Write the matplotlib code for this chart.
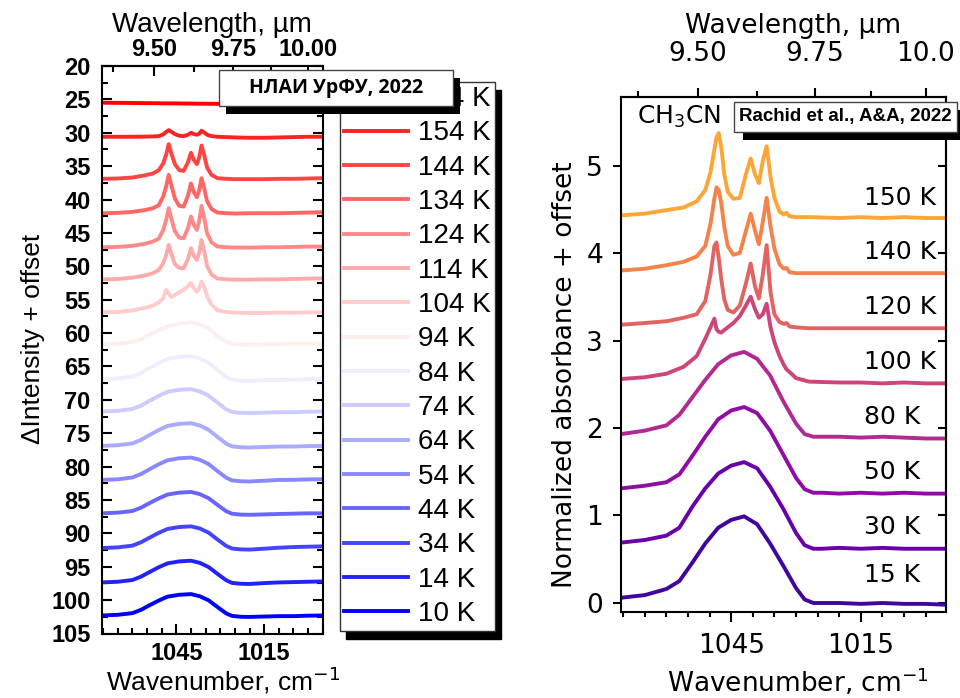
import numpy as np
import matplotlib
matplotlib.use("Agg")
import matplotlib.pyplot as plt
from matplotlib.lines import Line2D
from matplotlib.patches import Rectangle
from matplotlib.ticker import FixedLocator, MultipleLocator

plt.rcParams['font.family'] = ['Liberation Sans', 'DejaVu Sans']

# ---------------- left panel data (НЛАИ УрФУ) ----------------
left_labels = ['164 K', '154 K', '144 K', '134 K', '124 K', '114 K', '104 K', '94 K',
               '84 K', '74 K', '64 K', '54 K', '44 K', '34 K', '14 K', '10 K']

sharp_wn = [1070.5, 1065, 1060, 1056, 1053, 1051, 1049.5, 1048.5, 1047.6, 1046.7, 1045.5,
            1044, 1042.5, 1041, 1040, 1039, 1038, 1037.2, 1036.4, 1035.5, 1034.5, 1033,
            1031, 1028, 1025, 1020, 1015, 1010, 1005, 1000, 995]
l164 = [25.5, 25.52, 25.54, 25.56, 25.57, 25.58, 25.59, 25.59, 25.6, 25.6, 25.6, 25.61, 25.62,
        25.63, 25.63, 25.64, 25.64, 25.65, 25.65, 25.65, 25.66, 25.66, 25.67, 25.68, 25.69,
        25.7, 25.72, 25.74, 25.76, 25.78, 25.8]
l154 = [30.6, 30.6, 30.6, 30.58, 30.55, 30.5, 30.25, 29.9, 29.6, 29.85, 30.2, 30.45, 30.5,
        30.3, 30.0, 30.2, 30.3, 30.15, 29.7, 29.95, 30.3, 30.5, 30.6, 30.65, 30.7, 30.75,
        30.75, 30.7, 30.65, 30.6, 30.6]
l144 = [36.9, 36.85, 36.7, 36.4, 36.1, 35.6, 34.6, 33.3, 31.7, 33.1, 34.7, 35.6, 35.7, 34.4,
        33.0, 34.1, 34.7, 33.7, 31.9, 33.3, 35.2, 36.3, 36.8, 36.9, 36.95, 36.95, 36.95, 36.9,
        36.9, 36.85, 36.8]
l134 = [42.05, 42.0, 41.85, 41.6, 41.3, 40.85, 39.55, 38.08, 36.3, 37.85, 39.85, 40.95, 41.05,
        39.39, 37.6, 38.93, 39.65, 38.62, 36.8, 38.27, 40.26, 41.42, 41.95, 42.05, 42.1, 42.05,
        42.05, 42.05, 42.0, 41.95, 41.9]
l124 = [47.15, 47.1, 46.93, 46.65, 46.3, 45.85, 44.58, 43.11, 41.3, 42.88, 44.75, 45.7, 45.8,
        44.24, 42.55, 43.85, 44.55, 43.25, 40.95, 42.69, 45.05, 46.41, 47.03, 47.15, 47.2, 47.2,
        47.15, 47.15, 47.1, 47.05, 47.05]
l114 = [51.95, 51.9, 51.7, 51.4, 51.05, 50.55, 49.55, 48.35, 46.8, 48.15, 49.65, 50.25, 50.3,
        48.86, 47.3, 48.44, 49.05, 47.97, 46.05, 47.7, 49.95, 51.24, 51.83, 51.95, 52.0, 52.0,
        51.95, 51.95, 51.9, 51.85, 51.8]
l104 = [56.9, 56.85, 56.6, 56.25, 55.9, 55.4, 54.8, 53.5, 54.1, 54.6, 54.3, 53.9, 53.5, 53.0,
        52.5, 53.3, 53.8, 53.3, 52.3, 53.0, 54.5, 55.7, 56.6, 56.85, 56.95, 57.0, 57.0, 56.95,
        56.95, 56.9, 56.9]

broad_wn = [1070.5, 1065, 1060, 1057, 1054, 1051, 1048, 1044, 1040, 1037, 1034, 1031, 1028,
            1026, 1023, 1020, 1015, 1010, 1005, 1000, 995]
l94 = [61.7, 61.6, 61.35, 60.9, 60.2, 59.6, 59.05, 58.6, 58.4, 58.7, 59.3, 60.5, 61.3, 61.6,
       61.75, 61.75, 61.7, 61.65, 61.6, 61.6, 61.55]
l84 = [66.9, 66.8, 66.52, 65.97, 65.21, 64.48, 63.86, 63.55, 63.45, 63.79, 64.45, 65.52, 66.55,
       66.97, 67.11, 67.14, 67.07, 67.0, 67.0, 66.93, 66.9]
l74 = [71.75, 71.65, 71.38, 70.85, 70.11, 69.4, 68.8, 68.5, 68.4, 68.73, 69.37, 70.41, 71.41,
       71.82, 71.95, 71.98, 71.92, 71.85, 71.85, 71.78, 71.75]
l64 = [76.9, 76.8, 76.53, 75.98, 75.23, 74.52, 73.91, 73.6, 73.5, 73.84, 74.49, 75.54, 76.56,
       76.97, 77.1, 77.14, 77.07, 77.0, 77.0, 76.93, 76.9]
l54 = [82.0, 81.9, 81.63, 81.1, 80.36, 79.65, 79.05, 78.75, 78.65, 78.98, 79.62, 80.66, 81.66,
       82.07, 82.2, 82.23, 82.12, 82.0, 81.98, 81.92, 81.9]
l44 = [87.0, 86.9, 86.65, 86.14, 85.43, 84.76, 84.18, 83.9, 83.8, 84.12, 84.73, 85.72, 86.68,
       87.06, 87.19, 87.22, 87.16, 87.1, 87.05, 87.0, 87.0]
l34 = [92.2, 92.1, 91.84, 91.32, 90.61, 89.92, 89.34, 89.05, 88.95, 89.27, 89.89, 90.9, 91.87,
       92.27, 92.4, 92.43, 92.3, 92.15, 92.05, 92.0, 91.95]
l14 = [97.35, 97.25, 96.99, 96.47, 95.76, 95.07, 94.49, 94.2, 94.1, 94.42, 95.04, 96.05, 97.02,
       97.42, 97.55, 97.58, 97.45, 97.35, 97.3, 97.25, 97.2]
l10 = [102.3, 102.2, 101.95, 101.44, 100.73, 100.06, 99.48, 99.2, 99.1, 99.42, 100.03, 101.02,
       101.98, 102.36, 102.49, 102.52, 102.46, 102.4, 102.4, 102.33, 102.3]

left_series = [(sharp_wn, l164), (sharp_wn, l154), (sharp_wn, l144), (sharp_wn, l134),
               (sharp_wn, l124), (sharp_wn, l114), (sharp_wn, l104), (broad_wn, l94),
               (broad_wn, l84), (broad_wn, l74), (broad_wn, l64), (broad_wn, l54),
               (broad_wn, l44), (broad_wn, l34), (broad_wn, l14), (broad_wn, l10)]

left_yticks = list(range(20, 106, 5))
wl_ticks = [9.5, 9.75, 10.0]
wl_minor = [9.375, 9.625, 9.875]

# ---------------- right panel data (Rachid et al.) ----------------
right_labels = ['15 K', '30 K', '50 K', '80 K', '100 K', '120 K', '140 K', '150 K']
right_label_y = [0.32, 0.87, 1.50, 2.13, 2.75, 3.38, 4.01, 4.63]

r_sharp_wn = [1070.5, 1065, 1060, 1056, 1053, 1051, 1049.8, 1048.9, 1048.4, 1047.9, 1047.3,
              1046.6, 1045.8, 1044.5, 1043, 1041.6, 1040.5, 1039.5, 1038.6, 1037.7, 1036.8,
              1035.9, 1035, 1033.8, 1032.8, 1032.2, 1031.5, 1030, 1027, 1020, 1015, 1010,
              1005, 1000, 995.3]
r150 = [4.43, 4.45, 4.49, 4.52, 4.59, 4.72, 4.92, 5.18, 5.32, 5.37, 5.21, 4.90, 4.70, 4.62,
        4.63, 4.90, 5.08, 4.90, 4.80, 5.05, 5.22, 4.87, 4.63, 4.47, 4.44, 4.46, 4.42, 4.41,
        4.41, 4.40, 4.41, 4.40, 4.41, 4.40, 4.40]
r140 = [3.80, 3.82, 3.86, 3.90, 3.96, 4.08, 4.33, 4.62, 4.75, 4.72, 4.57, 4.30, 4.08, 3.98,
        4.00, 4.25, 4.45, 4.26, 4.10, 4.35, 4.63, 4.30, 4.05, 3.87, 3.82, 3.83, 3.78, 3.77,
        3.77, 3.77, 3.77, 3.77, 3.77, 3.77, 3.77]
r120 = [3.18, 3.20, 3.22, 3.26, 3.30, 3.45, 3.75, 4.08, 4.12, 3.95, 3.70, 3.47, 3.35, 3.32,
        3.40, 3.65, 3.88, 3.62, 3.48, 3.75, 4.09, 3.55, 3.30, 3.21, 3.19, 3.20, 3.16, 3.15,
        3.14, 3.14, 3.14, 3.14, 3.14, 3.14, 3.14]
r100 = [2.56, 2.58, 2.62, 2.70, 2.82, 3.02, 3.15, 3.25, 3.13, 3.10, 3.09, 3.12, 3.15, 3.20,
        3.28, 3.40, 3.50, 3.36, 3.26, 3.30, 3.42, 3.15, 2.98, 2.82, 2.72, 2.67, 2.64, 2.57,
        2.53, 2.52, 2.52, 2.51, 2.52, 2.51, 2.51]

r_broad_wn = [1070.5, 1065, 1060, 1057, 1054, 1051, 1048, 1045, 1042, 1039, 1036, 1033, 1030,
              1028, 1026, 1024, 1020, 1015, 1010, 1005, 1000, 995.3]
r80 = [1.93, 1.97, 2.03, 2.15, 2.35, 2.55, 2.73, 2.83, 2.87, 2.79, 2.60, 2.31, 2.05, 1.93,
       1.90, 1.90, 1.90, 1.89, 1.90, 1.89, 1.88, 1.88]
r50 = [1.31, 1.34, 1.38, 1.47, 1.68, 1.90, 2.10, 2.20, 2.24, 2.17, 1.97, 1.70, 1.43, 1.30,
       1.26, 1.26, 1.25, 1.26, 1.25, 1.26, 1.25, 1.25]
r30 = [0.69, 0.72, 0.77, 0.86, 1.10, 1.31, 1.48, 1.57, 1.61, 1.54, 1.33, 1.08, 0.80, 0.66,
       0.62, 0.62, 0.63, 0.62, 0.63, 0.62, 0.62, 0.62]
r15 = [0.06, 0.09, 0.16, 0.25, 0.46, 0.68, 0.86, 0.95, 0.99, 0.90, 0.68, 0.43, 0.17, 0.04,
       0.0, 0.0, 0.0, -0.01, 0.0, -0.01, -0.01, -0.02]

right_series = [(r_broad_wn, r15), (r_broad_wn, r30), (r_broad_wn, r50), (r_broad_wn, r80),
                (r_sharp_wn, r100), (r_sharp_wn, r120), (r_sharp_wn, r140), (r_sharp_wn, r150)]

# ---------------- figure ----------------
W, H = 960, 698
fig = plt.figure(figsize=(9.6, 6.98), dpi=100)


def rect(x0, y0, x1, y1):
    return [x0 / W, 1 - y1 / H, (x1 - x0) / W, (y1 - y0) / H]


def wn2um(x):
    x = np.asarray(x, dtype=float)
    with np.errstate(divide='ignore', invalid='ignore'):
        return 1e4 / x


LW = 2.8

# ---- left panel ----
ax1 = fig.add_axes(rect(101.7, 66, 322.7, 633.5))
left_colors = plt.cm.bwr(np.linspace(1, 0, len(left_series)))
for (wn, vals), col in zip(left_series, left_colors):
    ax1.plot(wn, vals, color=col, lw=LW, solid_capstyle='butt', solid_joinstyle='round')
ax1.set_xlim(1070.5, 995)
ax1.set_ylim(105, 20)
ax1.set_xticks([1045, 1015])
ax1.xaxis.set_minor_locator(MultipleLocator(5))
ax1.set_yticks(left_yticks)
ax1.yaxis.set_minor_locator(MultipleLocator(2.5))
ax1.tick_params(which='both', direction='in', top=False, right=True, width=1.5, labelsize=17)
ax1.tick_params(which='major', length=7)
ax1.tick_params(which='minor', length=4)
ax1.tick_params(axis='y', pad=8)
ax1.tick_params(axis='x', pad=6)
for s in ax1.spines.values():
    s.set_linewidth(1.5)

sec1 = ax1.secondary_xaxis('top', functions=(wn2um, wn2um))
sec1.set_xticks(wl_ticks, labels=['9.50', '9.75', '10.00'])
sec1.xaxis.set_minor_locator(FixedLocator(wl_minor))
sec1.tick_params(which='both', direction='in', width=1.5, pad=3.5, labelsize=17)
sec1.tick_params(which='major', length=7)
sec1.tick_params(which='minor', length=4)
sec1.spines['top'].set_linewidth(1.5)
for t in ax1.get_xticklabels() + ax1.get_yticklabels() + sec1.get_xticklabels():
    t.set_fontweight('bold')

ax1.set_xlabel('Wavenumber, cm$^{-1}$', fontsize=19)
ax1.xaxis.set_label_coords(0.549, -0.055)
ax1.set_ylabel('ΔIntensity + offset', fontsize=19)
ax1.yaxis.set_label_coords(-0.257, 0.519)
sec1.set_xlabel('Wavelength, µm', fontsize=20)
sec1.xaxis.set_label_coords(0.501, 1.06, transform=ax1.transAxes)

# legend
handles = [Line2D([], [], color=c, lw=LW) for c in left_colors]
fig.legend(handles, left_labels, loc='upper left',
           bbox_to_anchor=(340 / W, 1 - 82 / H), bbox_transform=fig.transFigure,
           frameon=True, fancybox=False, edgecolor='#333333', framealpha=1,
           borderpad=0.15, borderaxespad=0, handlelength=2.3, handletextpad=0.35,
           labelspacing=0.30, prop={'family': 'Liberation Sans', 'size': 20},
           shadow={'color': 'black', 'alpha': 1, 'ox': 4.5, 'oy': -5.5})

# ---- right panel ----
ax2 = fig.add_axes(rect(621, 97, 946, 612))
right_colors = plt.cm.plasma(np.linspace(0.1, 0.8, len(right_series)))
for (wn, vals), col in zip(right_series, right_colors):
    ax2.plot(wn, vals, color=col, lw=LW, solid_capstyle='butt', solid_joinstyle='round')
ax2.set_xlim(1070.5, 995.3)
ax2.set_ylim(-0.103, 5.783)
ax2.set_xticks([1045, 1015])
ax2.xaxis.set_minor_locator(MultipleLocator(5))
ax2.set_yticks([0, 1, 2, 3, 4, 5])
ax2.tick_params(which='both', direction='out', top=False, right=False, width=1.5,
                labelsize=19, labelfontfamily='DejaVu Sans')
ax2.tick_params(axis='y', length=6, pad=7)
ax2.tick_params(axis='x', which='major', length=7, pad=8)
ax2.tick_params(axis='x', which='minor', length=3.6)
for s in ax2.spines.values():
    s.set_linewidth(1.5)

sec2 = ax2.secondary_xaxis('top', functions=(wn2um, wn2um))
sec2.set_xticks(wl_ticks, labels=['9.50', '9.75', '10.0'])
sec2.xaxis.set_minor_locator(FixedLocator(wl_minor))
sec2.tick_params(which='both', direction='out', width=1.5, pad=15, labelsize=19,
                 labelfontfamily='DejaVu Sans')
sec2.tick_params(which='major', length=6.5)
sec2.tick_params(which='minor', length=4.3)
sec2.spines['top'].set_linewidth(1.5)

sec2y = ax2.secondary_yaxis('right')
sec2y.set_yticks([0, 1, 2, 3, 4, 5])
sec2y.tick_params(direction='in', length=6, width=1.5, labelright=False)
sec2y.spines['right'].set_linewidth(1.5)

ax2.set_xlabel('Wavenumber, cm$^{-1}$', fontsize=19, family='DejaVu Sans')
ax2.xaxis.set_label_coords(0.545, -0.105)
ax2.set_ylabel('Normalized absorbance + offset', fontsize=19, family='DejaVu Sans')
ax2.yaxis.set_label_coords(-0.133, 0.46)
sec2.set_xlabel('Wavelength, µm', fontsize=19, family='DejaVu Sans')
sec2.xaxis.set_label_coords(0.528, 1.1237, transform=ax2.transAxes)

for lab, y in zip(right_labels, right_label_y):
    ax2.text(1014.2, y, lab, ha='left', va='center', fontsize=18, family='DejaVu Sans')
ax2.text(1066.9, 5.55, 'CH$_3$CN', ha='left', va='center', fontsize=18, family='DejaVu Sans')


# ---- annotation boxes with hard shadows ----
def shadow_box(x0, y0, x1, y1, sx, sy, text, tx, ty, **kw):
    fig.add_artist(Rectangle(((x0 + sx) / W, 1 - (y1 + sy) / H), (x1 - x0) / W, (y1 - y0) / H,
                             transform=fig.transFigure, facecolor='black', edgecolor='none',
                             zorder=10))
    fig.add_artist(Rectangle((x0 / W, 1 - y1 / H), (x1 - x0) / W, (y1 - y0) / H,
                             transform=fig.transFigure, facecolor='white', edgecolor='#444444',
                             lw=1, zorder=11))
    fig.text(tx / W, 1 - ty / H, text, ha='center', va='center', zorder=12, **kw)


shadow_box(219, 69.5, 453, 105.5, 7, 8, 'НЛАИ УрФУ, 2022', 336, 87.5,
           fontsize=14, fontweight='bold', family=['Open Sans', 'DejaVu Sans'])
shadow_box(734, 102, 957, 132, 9, 8, 'Rachid et al., A&A, 2022', 845.5, 117,
           fontsize=13.5, fontweight='bold', family=['Liberation Sans', 'DejaVu Sans'])

fig.savefig('out.png', dpi=100)
